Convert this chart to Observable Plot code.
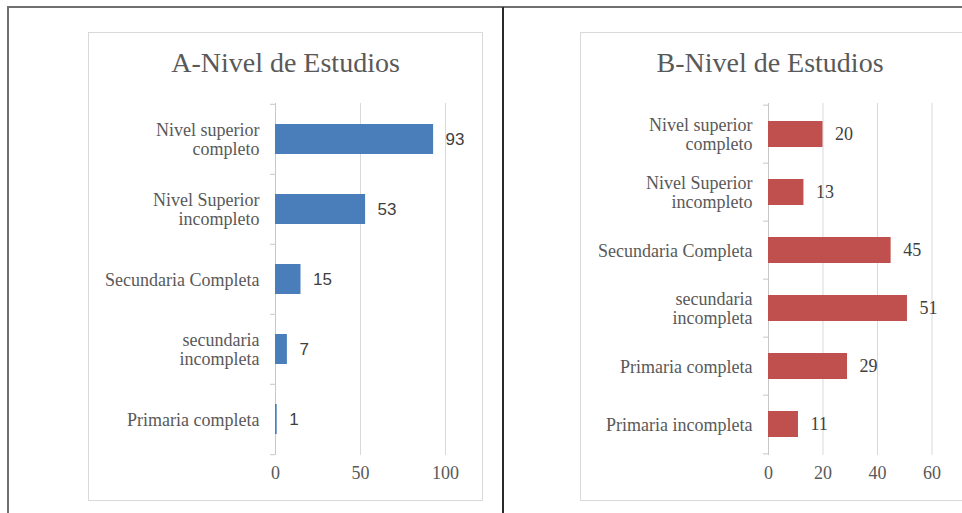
<!DOCTYPE html>
<html>
<head>
<meta charset="utf-8">
<script src="https://cdn.jsdelivr.net/npm/d3@7"></script>
<script src="https://cdn.jsdelivr.net/npm/@observablehq/plot@0.6"></script>
<style>
html, body { margin: 0; padding: 0; background: #fff; }
#page { position: relative; width: 962px; height: 513px; overflow: hidden; background: #fff; }
.frame-top { position: absolute; left: 7px; top: 6px; width: 970px; height: 2px; background: #707070; }
.frame-left { position: absolute; left: 7px; top: 6px; width: 2px; height: 520px; background: #707070; }
.divider { position: absolute; left: 502px; top: 7px; width: 2px; height: 520px; background: #2a2a2a; }
.box { position: absolute; top: 32px; height: 469px; border: 1px solid #d9d9d9; box-sizing: border-box; background: #fff; }
.title { position: absolute; top: 49px; height: 32px; line-height: 28px; font-family: "Liberation Serif", serif; font-size: 28px; color: #595959; text-align: center; white-space: nowrap; }
.chart { position: absolute; top: 95px; }
.chart svg { max-width: none !important; }
</style>
</head>
<body>
<div id="page">
  <div class="frame-top"></div>
  <div class="frame-left"></div>
  <div class="divider"></div>
  <div class="box" style="left:88px; width:395px;"></div>
  <div class="box" style="left:580px; width:420px;"></div>
  <div class="title" style="left:88px; width:395px;">A-Nivel de Estudios</div>
  <div class="title" style="left:580px; width:380px;">B-Nivel de Estudios</div>
  <div class="chart" id="chartA" style="left:88px; width:394px;"></div>
  <div class="chart" id="chartB" style="left:580px; width:443px;"></div>
</div>
<script>
// ---- Data: chart A ----
const categoriesA = ["Nivel superior completo", "Nivel Superior incompleto", "Secundaria Completa", "secundaria incompleta", "Primaria completa"];
const labelsA = ["Nivel superior\ncompleto", "Nivel Superior\nincompleto", "Secundaria Completa", "secundaria\nincompleta", "Primaria completa"];
const valuesA = [93, 53, 15, 7, 1];
const ticksA = [0, 50, 100];

// ---- Data: chart B ----
const categoriesB = ["Nivel superior completo", "Nivel Superior incompleto", "Secundaria Completa", "secundaria incompleta", "Primaria completa", "Primaria incompleta"];
const labelsB = ["Nivel superior\ncompleto", "Nivel Superior\nincompleto", "Secundaria Completa", "secundaria\nincompleta", "Primaria completa", "Primaria incompleta"];
const valuesB = [20, 13, 45, 51, 29, 11];
const ticksB = [0, 20, 40, 60];

const H = 395, MT = 8, MB = 35;

function chart({cats, labels, vals, ticks, maxX, color, padIn, width, marginLeft, marginRight, valueFont, valueSize}) {
  const data = cats.map((c, i) => ({cat: c, label: labels[i], value: vals[i]}));
  const step = (H - MT - MB) / cats.length;
  const serif = "Liberation Serif";
  return Plot.plot({
    width, height: H, marginLeft, marginRight, marginTop: MT, marginBottom: MB,
    style: {background: "transparent", overflow: "visible", maxWidth: "none"},
    x: {domain: [0, maxX], axis: null},
    y: {domain: cats, paddingInner: padIn, paddingOuter: padIn / 2, axis: null},
    marks: [
      Plot.ruleX(ticks.slice(1), {stroke: "#d9d9d9", strokeWidth: 1}),
      Plot.ruleX([0], {stroke: "#c8c8c8", strokeWidth: 1}),
      Plot.ruleY(cats, {y: d => d, x1: 0, x2: 0, insetLeft: -5, dy: -step / 2, stroke: "#c8c8c8"}),
      Plot.ruleY([cats[cats.length - 1]], {y: d => d, x1: 0, x2: 0, insetLeft: -5, dy: step / 2, stroke: "#c8c8c8"}),
      Plot.barX(data, {y: "cat", x: "value", fill: color}),
      Plot.text(data, {y: "cat", x: "value", text: d => String(d.value), dx: 12, textAnchor: "start",
        fontFamily: valueFont, fontSize: valueSize, fill: "#404040"}),
      Plot.text(data, {y: "cat", text: "label", frameAnchor: "left", textAnchor: "end", dx: -16,
        lineHeight: 1.05, fontFamily: serif, fontSize: 18, fill: "#595959"}),
      Plot.text(ticks, {x: d => d, text: d => String(d), frameAnchor: "bottom", dy: 23,
        fontFamily: serif, fontSize: 18, fill: "#595959"})
    ]
  });
}

document.getElementById("chartA").appendChild(chart({
  cats: categoriesA, labels: labelsA, vals: valuesA, ticks: ticksA, maxX: 100,
  color: "#4a7ebb", padIn: 0.574, width: 394, marginLeft: 187, marginRight: 37,
  valueFont: "Liberation Sans", valueSize: 17
}));
document.getElementById("chartB").appendChild(chart({
  cats: categoriesB, labels: labelsB, vals: valuesB, ticks: ticksB, maxX: 80,
  color: "#c0504d", padIn: 0.557, width: 443, marginLeft: 188, marginRight: 37,
  valueFont: "Liberation Serif", valueSize: 18
}));
</script>
</body>
</html>
